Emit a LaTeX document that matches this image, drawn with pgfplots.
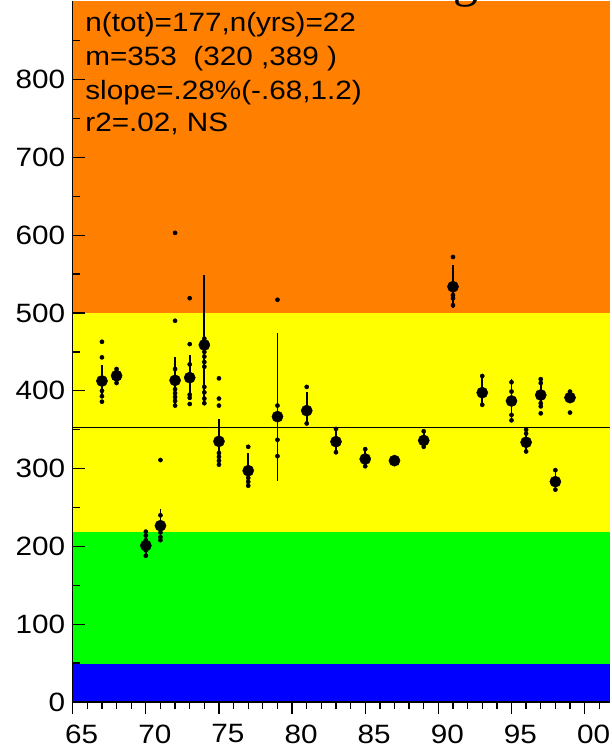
\documentclass[border=0pt]{standalone}
\usepackage{fontspec}
\setmainfont{Liberation Sans}[FakeStretch=1.12]
\newfontfamily\titlefont{Liberation Serif}
\usepackage{pgfplots}
\pgfplotsset{compat=1.18}
\definecolor{bandorange}{RGB}{255,127,0}
\definecolor{bandyellow}{RGB}{255,255,0}
\definecolor{bandgreen}{RGB}{0,255,0}
\definecolor{bandblue}{RGB}{0,0,255}
\begin{document}
\begin{tikzpicture}
\begin{axis}[
  scale only axis, width=536.8pt, height=701pt,
  xmin=65, xmax=101.7, ymin=0, ymax=901,
  axis x line*=bottom, axis y line*=left,
  axis line style={line width=1.5pt, -, black},
  axis on top,
  clip=false,
  xtick=\empty,
  ytick={0,100,...,800},
  minor ytick={50,150,...,850},
  tick align=inside,
  major tick length=12pt, minor tick length=7pt,
  tick style={black, line width=1.3pt},
  yticklabel style={font=\fontsize{26.5}{31}\selectfont, xshift=-4pt},
  /pgf/number format/assume math mode=true,
]
% background bands
\addplot[draw=none, fill=bandorange] coordinates {(65,901) (101.7,901)} \closedcycle;
\addplot[draw=none, fill=bandyellow] coordinates {(65,500) (101.7,500)} \closedcycle;
\addplot[draw=none, fill=bandgreen] coordinates {(65,218) (101.7,218)} \closedcycle;
\addplot[draw=none, fill=bandblue] coordinates {(65,49) (101.7,49)} \closedcycle;
% mean line
\addplot[black, line width=1.4pt] coordinates {(65,353) (101.7,353)};
% individual values
\addplot[black, only marks, mark=*, mark size=2.1pt] coordinates {
(67,463) (67,443) (67,400) (67,393) (67,386)
(68,428) (68,424) (68,414) (68,410)
(70,219) (70,214) (70,208) (70,195) (70,188)
(71,311) (71,240) (71,218) (71,212) (71,208)
(72,603) (72,490) (72,428) (72,402) (72,397) (72,392) (72,387) (72,381)
(73,519) (73,460) (73,434) (73,395) (73,391) (73,383)
(74,467) (74,450) (74,444) (74,437) (74,431) (74,405) (74,398) (74,390) (74,384)
(75,416) (75,390) (75,381) (75,320) (75,315) (75,310) (75,305)
(77,328) (77,288) (77,283) (77,278)
(79,517) (79,381) (79,337) (79,316)
(81,405) (81,358)
(83,351) (83,321)
(85,325) (85,303)
(89,348) (89,328)
(91,572) (91,523) (91,519) (91,510)
(93,419) (93,382)
(95,411) (95,399) (95,369) (95,362)
(96,350) (96,345) (96,322)
(97,415) (97,410) (97,384) (97,380) (97,371)
(98,298) (98,273)
(99,399) (99,372)
};
% annual means with intervals
\addplot[black, only marks, mark=*, mark size=5.6pt,
  error bars/.cd, y dir=both, y explicit, error mark=none,
  error bar style={line width=1.7pt, black}] coordinates {
(67,412.6) += (0,20.4) -= (0,19.6)
(68,419.4) += (0,8.6) -= (0,9.4)
(70,201) += (0,19) -= (0,11)
(71,226.6) += (0,21.4) -= (0,18.6)
(72,413.4) += (0,29.6) -= (0,31.4)
(73,416.9) += (0,29.1) -= (0,28.9)
(74,458.9) += (0,90.1) -= (0,74.9)
(75,335) += (0,29) -= (0,29)
(77,297.3) += (0,22.7) -= (0,20.3)
(79,366.8) += (0,107.2) -= (0,82.3)
(81,374.5) += (0,23.5) -= (0,16.5)
(83,334.6) += (0,16.4) -= (0,13.6)
(85,312.3) += (0,12.7) -= (0,10.3)
(87,310.2) += (0,3) -= (0,3)
(89,336.2) += (0,11.8) -= (0,8.2)
(91,533.8) += (0,28.2) -= (0,26.8)
(93,397.6) += (0,21.4) -= (0,15.6)
(95,386.9) += (0,28.1) -= (0,26.9)
(96,333.8) += (0,16.2) -= (0,11.8)
(97,394.6) += (0,20.4) -= (0,14.6)
(98,283.2) += (0,14.8) -= (0,10.2)
(99,391.2) += (0,7.8) -= (0,7.2)
};
\coordinate (BL) at (rel axis cs:0,0);
\coordinate (TR) at (rel axis cs:1,1);
\coordinate (TL) at (rel axis cs:0,1);
\node[anchor=base west, inner sep=0pt, font=\fontsize{26.5}{31}\selectfont, xshift=12.5pt, yshift=-30.7pt] at (rel axis cs:0,1) {n(tot)=177,n(yrs)=22};
\node[anchor=base west, inner sep=0pt, font=\fontsize{26.5}{31}\selectfont, xshift=12.5pt, yshift=-65pt] at (rel axis cs:0,1) {m=353\ \ (320\ ,389\ )};
\node[anchor=base west, inner sep=0pt, font=\fontsize{26.5}{31}\selectfont, xshift=12.5pt, yshift=-98.3pt] at (rel axis cs:0,1) {slope=.28\%(-.68,1.2)};
\node[anchor=base west, inner sep=0pt, font=\fontsize{26.5}{31}\selectfont, xshift=12.5pt, yshift=-130.7pt] at (rel axis cs:0,1) {r2=.02, NS};
\end{axis}
\begin{axis}[
  scale only axis, width=536.8pt, height=701pt,
  xmin=65, xmax=101.7, ymin=0, ymax=901,
  axis x line*=bottom, hide y axis,
  axis line style={line width=1.5pt, -, black},
  xtick={65,70,...,100},
  xticklabels={65,70,75,80,85,90,95,00},
  minor xtick={66,67,68,69,71,72,73,74,76,77,78,79,81,82,83,84,86,87,88,89,91,92,93,94,96,97,98,99,101},
  tick align=outside,
  major tick length=12pt, minor tick length=7pt,
  tick style={black, line width=1.3pt},
  xticklabel style={font=\fontsize{26.5}{31}\selectfont, inner sep=1pt, xshift=9pt, yshift=-9.5pt},
  /pgf/number format/assume math mode=true,
]
\end{axis}
\node[anchor=base, inner sep=0pt] at ([xshift=393.3pt, yshift=4.9pt]TL) {\titlefont\fontsize{50}{60}\selectfont g};
\pgfresetboundingbox
\path ([xshift=-72.7pt, yshift=-50pt]BL) rectangle ([xshift=2.5pt, yshift=1pt]TR);
\end{tikzpicture}
\end{document}
